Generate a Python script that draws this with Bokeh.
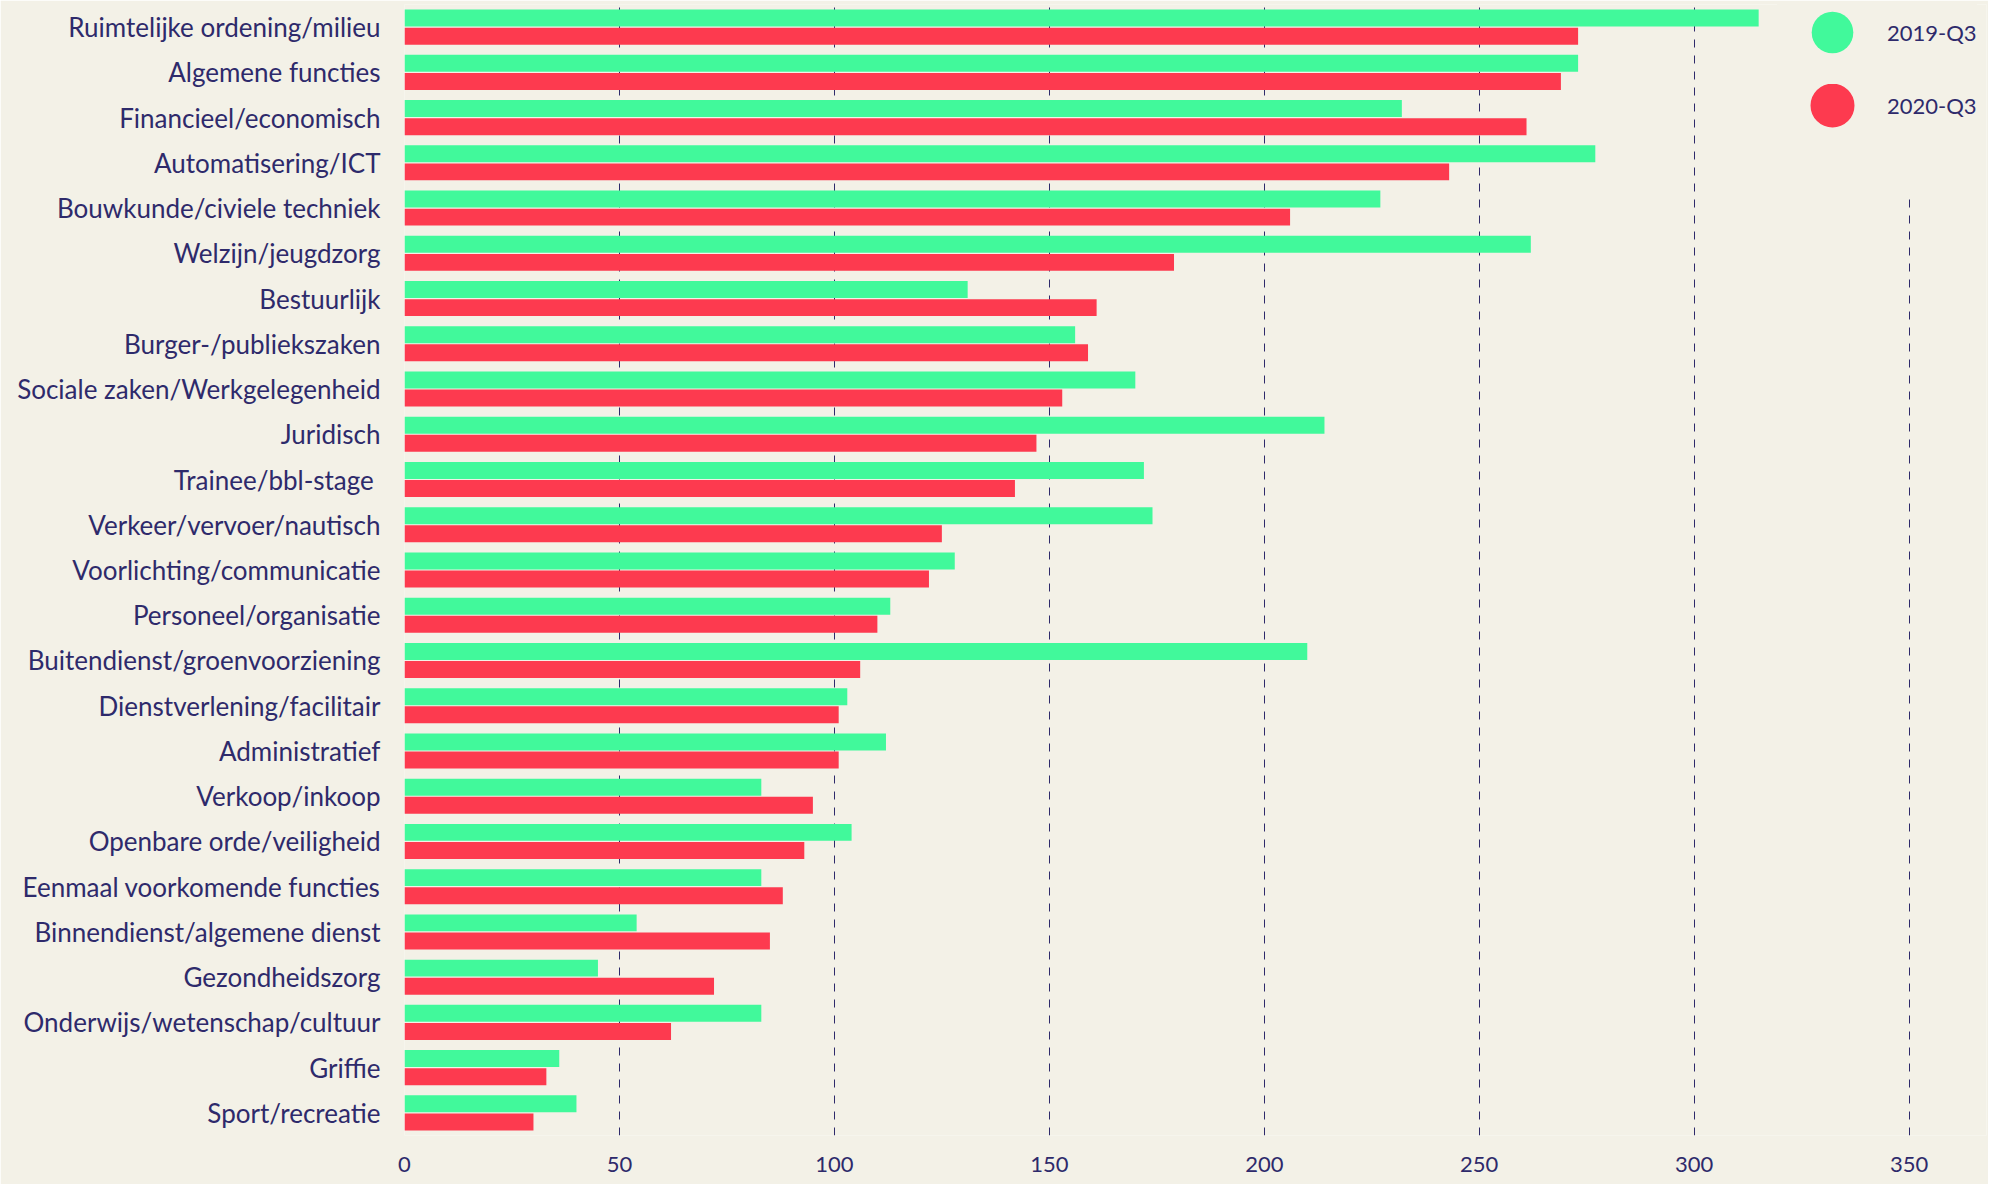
from bokeh.plotting import figure
from bokeh.models import FactorRange, Range1d, FixedTicker, Legend, LegendItem, ColumnDataSource
from bokeh.transform import dodge
from bokeh.embed import file_html
from bokeh.resources import INLINE

categories = [
    "Ruimtelijke ordening/milieu",
    "Algemene functies",
    "Financieel/economisch",
    "Automatisering/ICT",
    "Bouwkunde/civiele techniek",
    "Welzijn/jeugdzorg",
    "Bestuurlijk",
    "Burger-/publiekszaken",
    "Sociale zaken/Werkgelegenheid",
    "Juridisch",
    "Trainee/bbl-stage ",
    "Verkeer/vervoer/nautisch",
    "Voorlichting/communicatie",
    "Personeel/organisatie",
    "Buitendienst/groenvoorziening",
    "Dienstverlening/facilitair",
    "Administratief",
    "Verkoop/inkoop",
    "Openbare orde/veiligheid",
    "Eenmaal voorkomende functies",
    "Binnendienst/algemene dienst",
    "Gezondheidszorg",
    "Onderwijs/wetenschap/cultuur",
    "Griffie",
    "Sport/recreatie",
]
q3_2019 = [315, 273, 232, 277, 227, 262, 131, 156, 170, 214, 172, 174, 128, 113,
           210, 103, 112, 83, 104, 83, 54, 45, 83, 36, 40]
q3_2020 = [273, 269, 261, 243, 206, 179, 161, 159, 153, 147, 142, 125, 122, 110,
           106, 101, 101, 95, 93, 88, 85, 72, 62, 33, 30]
series_labels = ["2019-Q3", "2020-Q3"]
x_ticks = [0, 50, 100, 150, 200, 250, 300, 350]
grid_ticks = [50, 100, 150, 200, 250, 300, 350]

BG = "#f3f1e7"
INK = "#2e2a6b"
GREEN = "#41f99b"
RED = "#fd3a4f"
FONT = "Lato"

src = ColumnDataSource(dict(cat=categories, a=q3_2019, b=q3_2020))

p = figure(
    width=1988, height=1184,
    y_range=FactorRange(factors=list(reversed(categories)), range_padding=0),
    x_range=Range1d(0, 368),
    output_backend="svg", toolbar_location=None,
    min_border_left=404, min_border_right=2, min_border_top=4, min_border_bottom=49,
)
p.background_fill_color = BG
p.border_fill_color = BG
p.outline_line_color = None

p.hbar(y=dodge("cat", 0.2, range=p.y_range), left=0, right="a", height=0.375,
       fill_color=GREEN, line_color=None, source=src)
p.hbar(y=dodge("cat", -0.2, range=p.y_range), left=0, right="b", height=0.375,
       fill_color=RED, line_color=None, source=src)

# zero-size markers: only used so the legend shows round swatches
r1 = p.scatter(x="a", y="cat", source=src, marker="circle", size=0,
               fill_color=GREEN, line_color=None)
r2 = p.scatter(x="b", y="cat", source=src, marker="circle", size=0,
               fill_color=RED, line_color=None)

common = dict(glyph_width=110, spacing=0, margin=0, padding=0,
              label_standoff=0, label_text_font=FONT, label_text_font_size="22px",
              label_text_color=INK, background_fill_color=BG,
              background_fill_alpha=1, border_line_color=None)
legend2 = Legend(items=[LegendItem(label=series_labels[1], renderers=[r2])],
                 location=(1373, 939), glyph_height=182, **common)
legend1 = Legend(items=[LegendItem(label=series_labels[0], renderers=[r1])],
                 location=(1373, 1051), glyph_height=104, **common)
p.add_layout(legend2)
p.add_layout(legend1)

p.xgrid.ticker = FixedTicker(ticks=grid_ticks)
p.xgrid.grid_line_color = INK
p.xgrid.grid_line_dash = "8 8"
p.xgrid.grid_line_width = 1
p.ygrid.grid_line_color = None

p.xaxis.ticker = FixedTicker(ticks=x_ticks)
p.xaxis.axis_line_color = None
p.xaxis.major_tick_line_color = None
p.xaxis.major_tick_out = 0
p.xaxis.major_tick_in = 0
p.xaxis.minor_tick_line_color = None
p.xaxis.major_label_standoff = 21
p.xaxis.major_label_text_font = FONT
p.xaxis.major_label_text_font_size = "22px"
p.xaxis.major_label_text_color = INK

p.yaxis.axis_line_color = None
p.yaxis.major_tick_line_color = None
p.yaxis.major_tick_out = 0
p.yaxis.major_tick_in = 0
p.yaxis.minor_tick_line_color = None
p.yaxis.major_label_standoff = 24
p.yaxis.major_label_text_font = FONT
p.yaxis.major_label_text_font_size = "26px"
p.yaxis.major_label_text_color = INK

open("out.html", "w").write(file_html(p, INLINE))
